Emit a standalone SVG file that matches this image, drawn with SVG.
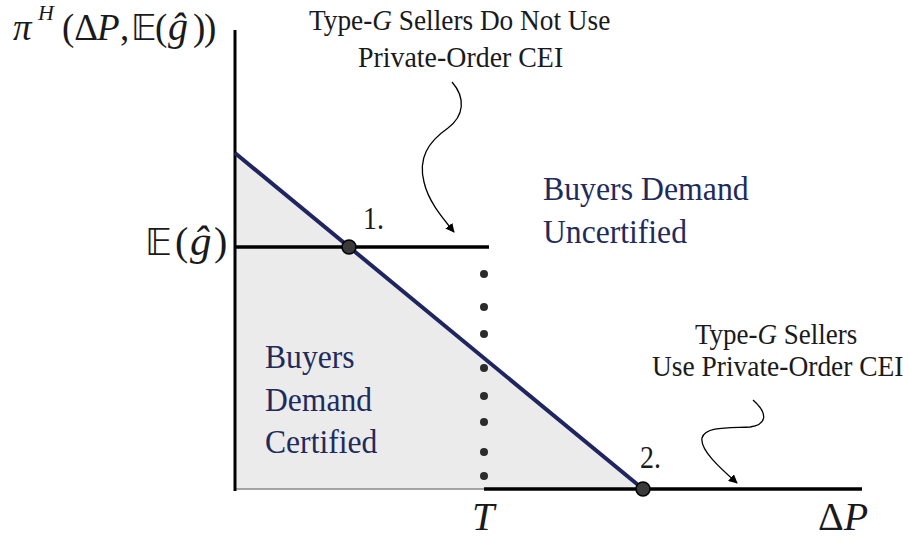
<svg xmlns="http://www.w3.org/2000/svg" width="911" height="544" viewBox="0 0 911 544">
<style>
  text { font-family: "Liberation Serif", "DejaVu Serif", serif; fill: #1a1a1a; }
  .lab { font-size: 30px; }
  .blue { font-size: 34px; fill: #222a5c; }
  .num { font-size: 31px; }
  .ax { font-size: 40px; }
  .math { font-size: 37px; }
  .it { font-style: italic; }
  .ds { font-family: "DejaVu Sans", "DejaVu Serif", sans-serif; }
  .thick { stroke: #000; stroke-width: 3.5; fill: none; }
  .curve { stroke: #000; stroke-width: 1.3; fill: none; marker-end: url(#ah); }
  .dot { fill: #2b2b2b; }
  .pt { fill: #3a3a3a; stroke: #000; stroke-width: 1.5; }
</style>
<defs>
  <marker id="ah" viewBox="0 0 10 10" refX="9" refY="5" markerWidth="9" markerHeight="9" markerUnits="userSpaceOnUse" orient="auto">
    <path d="M0,0 L10,5 L0,10 z" fill="#000"/>
  </marker>
</defs>
<rect width="911" height="544" fill="#fff"/>

<g id="region-certified">
  <polygon points="235,153 643,489 235,489" fill="#ebebeb"/>
  <line x1="235" y1="489" x2="484" y2="489" stroke="#888" stroke-width="1.5"/>
</g>

<g id="axes">
  <line x1="235" y1="30" x2="235" y2="491" stroke="#000" stroke-width="3"/>
  <line x1="484" y1="489" x2="862" y2="489" class="thick" stroke-width="4"/>
</g>

<g id="threshold-line">
  <line x1="235" y1="247" x2="489" y2="247" class="thick"/>
</g>

<g id="demand-line">
  <line x1="235" y1="153" x2="643" y2="489" stroke="#1e2560" stroke-width="4"/>
</g>

<g id="dotted-T">
  <circle class="dot" cx="484" cy="274" r="4"/>
  <circle class="dot" cx="484" cy="307" r="4"/>
  <circle class="dot" cx="484" cy="334" r="4"/>
  <circle class="dot" cx="484" cy="368" r="4"/>
  <circle class="dot" cx="484" cy="396" r="4"/>
  <circle class="dot" cx="484" cy="422" r="4"/>
  <circle class="dot" cx="484" cy="452" r="4"/>
  <circle class="dot" cx="484" cy="476" r="4"/>
</g>

<g id="point1">
  <circle class="pt" cx="349" cy="247" r="7"/>
  <text class="num" transform="translate(363,229) scale(0.9,1)">1.</text>
</g>
<g id="point2">
  <circle class="pt" cx="643" cy="489" r="7"/>
  <text class="num" transform="translate(640,468) scale(0.9,1)">2.</text>
</g>

<g id="connectors">
  <path class="curve" d="M452,82 C466,98 464,116 448,128 C428,142 418,158 424,182 C428,200 440,215 454,232"/>
  <path class="curve" d="M753,400 C770,415 765,425 750,427 C730,428 705,426 702,438 C700,450 720,468 737,483"/>
</g>

<g id="label-top">
  <text class="lab" transform="translate(309,30) scale(0.91,1)">Type-<tspan class="it">G</tspan> Sellers Do Not Use</text>
  <text class="lab" transform="translate(358,67) scale(0.93,1)">Private-Order CEI</text>
</g>

<g id="label-right">
  <text class="lab" transform="translate(695,344) scale(0.9,1)">Type-<tspan class="it">G</tspan> Sellers</text>
  <text class="lab" transform="translate(652,376) scale(0.915,1)">Use Private-Order CEI</text>
</g>

<g id="label-uncertified">
  <text class="blue" transform="translate(543,200) scale(0.935,1)">Buyers Demand</text>
  <text class="blue" transform="translate(543,243) scale(0.93,1)">Uncertified</text>
</g>

<g id="label-certified">
  <text class="blue" transform="translate(265,368) scale(0.93,1)">Buyers</text>
  <text class="blue" transform="translate(265,411) scale(0.93,1)">Demand</text>
  <text class="blue" transform="translate(265,453) scale(0.93,1)">Certified</text>
</g>

<g id="y-label">
  <text class="math"><tspan class="it" x="13" y="40">π</tspan><tspan class="it" x="38" y="20" style="font-size:22px">H</tspan><tspan x="62" y="40">(Δ</tspan><tspan class="it" x="97" y="40">P</tspan><tspan x="120" y="40">,</tspan><tspan class="ds" x="131" y="40" style="font-size:35px">𝔼</tspan><tspan x="155" y="40">(</tspan><tspan class="it" x="168" y="40" style="font-size:40px">ĝ</tspan><tspan x="193" y="40">)</tspan><tspan x="204" y="40">)</tspan></text>
</g>

<g id="Eg-label">
  <text style="font-size:40px"><tspan class="ds" x="145" y="255" style="font-size:37px">𝔼</tspan><tspan x="175" y="255">(</tspan><tspan class="it" x="190" y="255" style="font-size:43px">ĝ</tspan><tspan x="214" y="255">)</tspan></text>
</g>

<g id="x-labels">
  <text class="ax it" x="472" y="530">T</text>
  <text class="ax" x="818" y="530">Δ<tspan class="it">P</tspan></text>
</g>
</svg>
